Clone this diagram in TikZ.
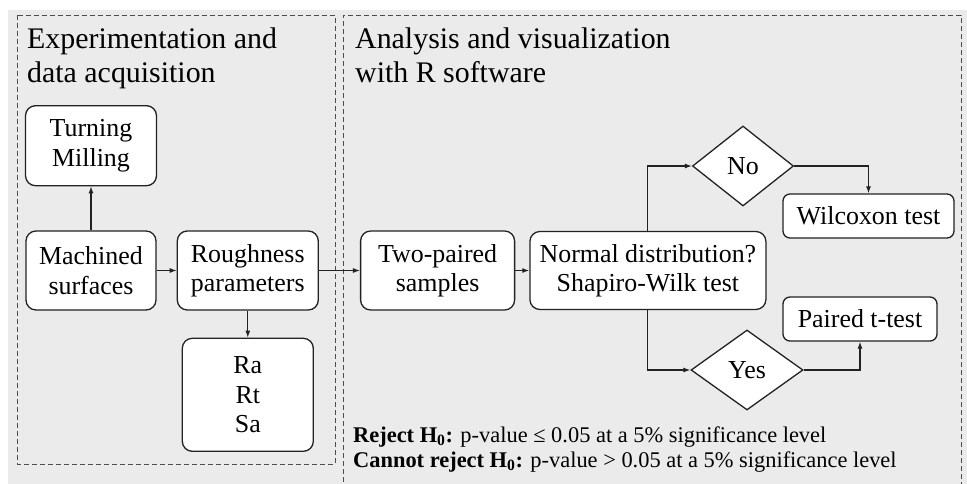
\documentclass[tikz,border=0pt]{standalone}
\usepackage{fontspec}
\setmainfont{Liberation Serif}
\usetikzlibrary{positioning, shapes.geometric, arrows.meta}

\definecolor{bggray}{HTML}{EBEBEB}
\definecolor{edgegray}{HTML}{222222}

\begin{document}
\begin{tikzpicture}[
    x=1bp, y=-1bp,
    box/.style={
        draw=edgegray,
        line width=1.3bp,
        rounded corners=10bp,
        fill=white,
        align=center,
        inner sep=0pt,
        font=\fontsize{26}{29.5}\selectfont,
    },
    decision/.style={
        draw=edgegray,
        line width=1.3bp,
        diamond,
        fill=white,
        inner sep=0pt,
        font=\fontsize{26}{29.5}\selectfont,
    },
    panel/.style={
        draw=black!70,
        line width=0.9bp,
        dash pattern=on 5bp off 3bp,
    },
    title/.style={
        anchor=base west,
        align=left,
        inner sep=0pt,
        font=\fontsize{30}{35}\selectfont,
    },
    arrow/.style={
        -{Latex[length=7bp, width=5bp]},
        line width=1.1bp,
        draw=edgegray,
    },
]

    \useasboundingbox (0,0) rectangle (967,484);
    \fill[bggray] (8,10) rectangle (967,484);

    % panels
    \draw[panel] (17,15) rectangle (335,464);
    \draw[panel] (343,490) -- (343,15) -- (961,15) -- (961,490);

    \node[title] (exptitle) at (27,83) {Experimentation and\\data acquisition};
    \node[title] (antitle) at (355,83) {Analysis and visualization\\with R software};

    % experiment side
    \node[box, minimum width=130bp, minimum height=79bp] (machined) at (91,270.5) {Machined\\surfaces};
    \node[box, minimum width=131bp, minimum height=80bp, above=44bp of machined] (process) {Turning\\Milling};
    \node[box, minimum width=141bp, minimum height=79bp, right=20bp of machined] (rough) {Roughness\\parameters};
    \node[box, minimum width=131bp, minimum height=113bp, below=27bp of rough] (params) {Ra\\Rt\\Sa};

    % analysis side
    \node[box, minimum width=154bp, minimum height=79bp, right=41bp of rough] (paired) {Two-paired\\samples};
    \node[box, minimum width=236bp, minimum height=78bp, right=14bp of paired] (normal) {Normal distribution?\\Shapiro-Wilk test};
    \node[decision, minimum width=101bp, minimum height=80bp] (no) at (743,166) {No};
    \node[decision, minimum width=112bp, minimum height=80bp] (yes) at (747,370) {Yes};
    \node[box, rounded corners=7bp, minimum width=171bp, minimum height=44bp] (wilcoxon) at (868.5,216) {Wilcoxon test};
    \node[box, rounded corners=7bp, minimum width=154bp, minimum height=44bp] (ttest) at (860,319) {Paired t-test};

    \node[anchor=base west, align=left, inner sep=0pt, font=\fontsize{22.5}{25}\selectfont] (rule) at (353,467)
        {\textbf{Reject H\textsubscript{0}:} p-value ≤ 0.05 at a 5\% significance level\\
         \textbf{Cannot reject H\textsubscript{0}:} p-value > 0.05 at a 5\% significance level};

    \draw[arrow] (machined) -- (process);
    \draw[arrow] (machined) -- (rough);
    \draw[arrow] (rough) -- (params);
    \draw[arrow] (rough) -- (paired);
    \draw[arrow] (paired) -- (normal);
    \draw[arrow] (normal.north) |- (no.west);
    \draw[arrow] (normal.south) |- (yes.west);
    \draw[arrow] (no.east) -| (wilcoxon.north);
    \draw[arrow] (yes.east) -| (ttest.south);

\end{tikzpicture}
\end{document}
